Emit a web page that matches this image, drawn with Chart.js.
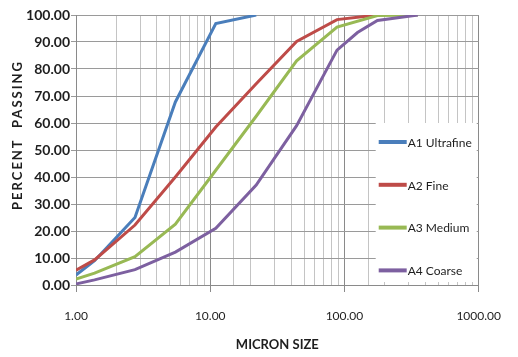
<!DOCTYPE html>
<html>
<head>
<meta charset="utf-8">
<script src="https://cdn.jsdelivr.net/npm/chart.js@4/dist/chart.umd.min.js"></script>
<style>
  html, body { margin: 0; padding: 0; background: #fff; }
  #wrap { width: 518px; height: 357px; }
</style>
</head>
<body>
<div id="wrap"><canvas id="psd" width="518" height="357"></canvas></div>
<script>
// Particle size distribution
const sizes     = [1, 1.375, 2.75, 5.5, 11, 22, 44, 88, 125, 176, 352];
const ultrafine = [3.7, 9.0, 25.0, 67.8, 96.8, 100, null, null, null, null, null];
const fine      = [5.5, 9.3, 22.2, 40.0, 58.5, 74.5, 90.2, 98.3, null, 100, null];
const medium    = [2.2, 4.4, 10.5, 22.5, 42.5, 62.5, 83.0, 95.5, null, 99.8, 100];
const coarse    = [0.4, 1.9, 5.7, 12.2, 21.0, 37.0, 59.0, 87.0, 93.5, 98.0, 100];

const seriesNames = ['A1 Ultrafine', 'A2 Fine', 'A3 Medium', 'A4 Coarse'];
const seriesColors = ['#4a7ebb', '#be4b48', '#98b954', '#7d60a0'];

const TEXT = '#1e1e1e';
const isDecade = v => Math.abs(Math.log10(v) - Math.round(Math.log10(v))) < 1e-9;

function points(vals) {
  return sizes.map((s, i) => ({ x: s, y: vals[i] }));
}

// Legend box drawn inside the plot, lower right (like the Excel original)
const insideLegend = {
  id: 'insideLegend',
  afterDraw(chart) {
    const { ctx, chartArea } = chart;
    const x0 = chartArea.right - 103;
    const x1 = chartArea.right - 2;
    const y0 = chartArea.top + 108;
    const y1 = chartArea.bottom - 3;
    ctx.save();
    ctx.fillStyle = '#fff';
    ctx.fillRect(x0, y0, x1 - x0, y1 - y0);
    ctx.font = '12px Lato';
    ctx.textBaseline = 'middle';
    chart.data.datasets.forEach((ds, i) => {
      const y = y0 + 19 + i * 42.8;
      ctx.strokeStyle = ds.borderColor;
      ctx.lineWidth = 4;
      ctx.beginPath();
      ctx.moveTo(x0 + 3, y);
      ctx.lineTo(x0 + 31, y);
      ctx.stroke();
      ctx.fillStyle = TEXT;
      ctx.fillText(ds.label, x0 + 32, y + 1);
    });
    ctx.restore();
  }
};

// Spaced-out vertical axis title
const yTitle = {
  id: 'yTitle',
  afterDraw(chart) {
    const { ctx } = chart;
    ctx.save();
    ctx.translate(18, 135);
    ctx.rotate(-Math.PI / 2);
    ctx.font = 'bold 13px Lato';
    ctx.letterSpacing = '2px';
    ctx.fillStyle = TEXT;
    ctx.textAlign = 'center';
    ctx.textBaseline = 'middle';
    ctx.fillText('PERCENT  PASSING', 0, 0);
    ctx.restore();
  }
};

const datasets = [ultrafine, fine, medium, coarse].map((vals, i) => ({
  label: seriesNames[i],
  data: points(vals),
  borderColor: seriesColors[i],
  backgroundColor: seriesColors[i],
  borderWidth: 3,
  pointRadius: 0,
  tension: 0,
  spanGaps: true,
  order: 4 - i
}));

new Chart(document.getElementById('psd'), {
  type: 'line',
  data: { datasets },
  options: {
    responsive: false,
    animation: false,
    devicePixelRatio: 1,
    layout: { padding: { left: 0, right: 33, top: 15, bottom: 0 } },
    plugins: {
      legend: { display: false },
      tooltip: { enabled: false }
    },
    scales: {
      x: {
        type: 'logarithmic',
        min: 1,
        max: 1000,
        afterFit: s => { s.height = 72; },
        border: { color: '#8a8a8a' },
        grid: {
          color: c => isDecade(c.tick.value) ? '#8a8a8a' : '#c4c4c4',
          tickColor: c => isDecade(c.tick.value) ? '#8a8a8a' : 'rgba(0,0,0,0)',
          tickLength: 7
        },
        ticks: {
          autoSkip: false,
          maxRotation: 0,
          padding: 17,
          color: TEXT,
          font: { family: 'Lato', size: 12 },
          callback: v => isDecade(v) ? Number(v).toFixed(2) : ''
        },
        title: {
          display: true,
          text: 'MICRON SIZE',
          color: TEXT,
          font: { family: 'Lato', size: 13, weight: 'bold' },
          padding: { top: 4, bottom: 4 }
        }
      },
      y: {
        min: 0,
        max: 100,
        afterFit: s => { s.width = 76; },
        border: { color: '#8a8a8a' },
        grid: { color: '#9a9a9a', tickColor: '#9a9a9a', tickLength: 5 },
        ticks: {
          stepSize: 10,
          padding: 1,
          color: TEXT,
          font: { family: 'Lato', size: 14, weight: 'bold' },
          callback: v => v.toFixed(2)
        }
      }
    }
  },
  plugins: [insideLegend, yTitle]
});
</script>
</body>
</html>
